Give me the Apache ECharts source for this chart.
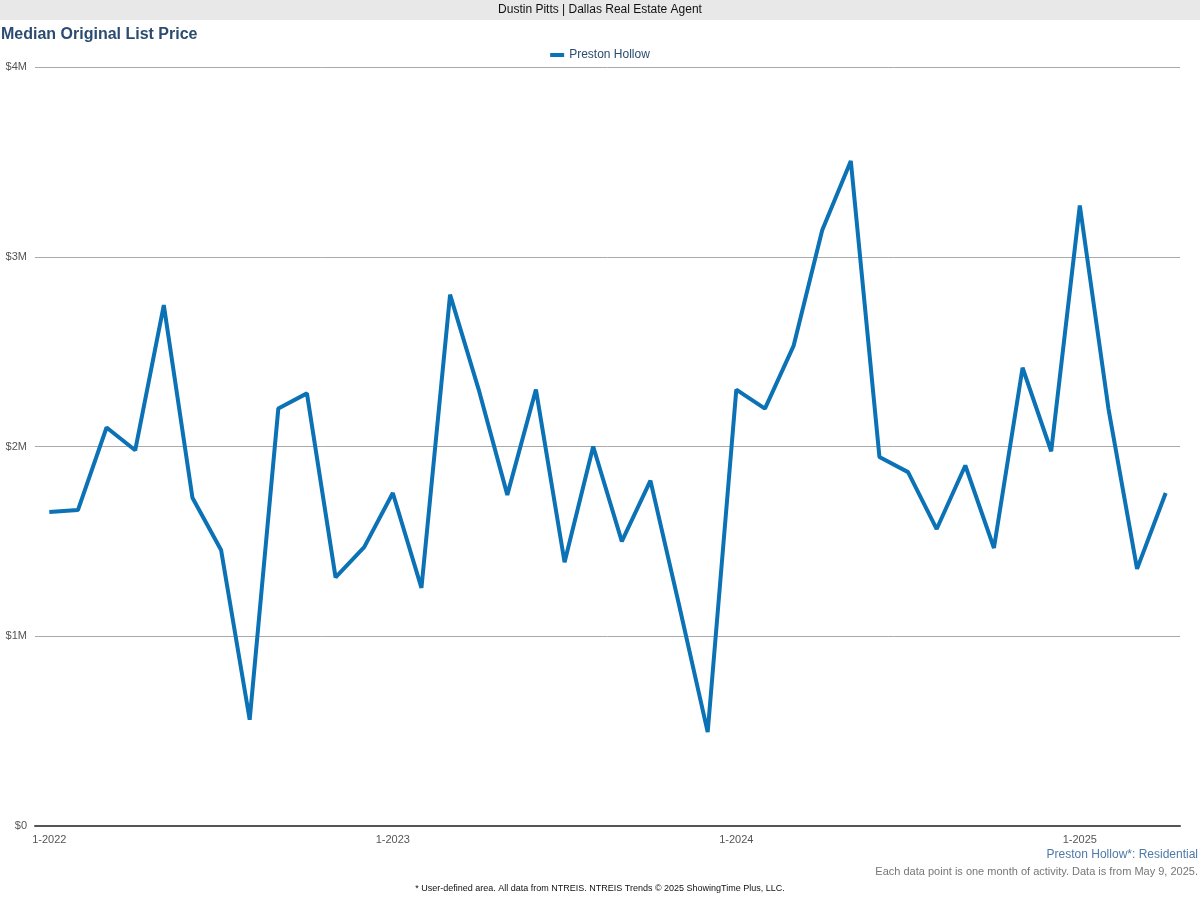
<!DOCTYPE html>
<html><head><meta charset="utf-8">
<script src="https://cdn.jsdelivr.net/npm/echarts@6/dist/echarts.min.js"></script>
<style>html,body{margin:0;padding:0;background:#fff}#c{width:1200px;height:900px}</style>
</head><body><div id="c"></div>
<script>
const months = [];
for (let y = 2022; y <= 2025; y++) for (let m = 1; m <= 12; m++) if (!(y === 2025 && m > 4)) months.push(m + '-' + y);
const seriesName = 'Preston Hollow';
const values = [1.655,1.665,2.10,1.98,2.745,1.73,1.455,0.56,2.20,2.28,1.31,1.47,
 1.755,1.255,2.80,2.30,1.745,2.30,1.39,2.00,1.50,1.82,1.165,0.495,
 2.30,2.20,2.53,3.14,3.505,1.945,1.865,1.565,1.90,1.465,2.415,1.975,
 3.27,2.20,1.355,1.755].map(v => v * 1e6);
const yTicks = [0,1e6,2e6,3e6,4e6];
const chart = echarts.init(document.getElementById('c'));
chart.setOption({
  animation:false,
  textStyle:{fontFamily:'Liberation Sans, Arial, sans-serif'},
  graphic:[
    {type:'rect',shape:{x:0,y:0,width:1200,height:20},style:{fill:'#e8e8e8'}},
    {type:'text',x:600,y:10,style:{text:'Dustin Pitts | Dallas Real Estate Agent',fill:'#111',font:'12px Liberation Sans, Arial',align:'center',verticalAlign:'middle'}},
    {type:'text',x:1,y:35,style:{text:'Median Original List Price',fill:'#2b4c70',font:'bold 16px Liberation Sans, Arial',verticalAlign:'middle'}},
    {type:'text',x:1198,y:855,style:{text:'Preston Hollow*: Residential',fill:'#4f79a8',font:'12px Liberation Sans, Arial',align:'right',verticalAlign:'middle'}},
    {type:'text',x:1198,y:872,style:{text:'Each data point is one month of activity. Data is from May 9, 2025.',fill:'#777',font:'11px Liberation Sans, Arial',align:'right',verticalAlign:'middle'}},
    {type:'text',x:600,y:889,style:{text:'* User-defined area. All data from NTREIS. NTREIS Trends © 2025 ShowingTime Plus, LLC.',fill:'#111',font:'9px Liberation Sans, Arial',align:'center',verticalAlign:'middle'}}
  ],
  legend:{top:44,left:'center',itemWidth:14,itemHeight:4,icon:'rect',textStyle:{color:'#2b4c70',fontSize:12},data:[seriesName]},
  grid:{left:35,right:20,top:67,bottom:74,containLabel:false},
  xAxis:{type:'category',data:months,boundaryGap:true,
    axisLine:{lineStyle:{color:'#555',width:2}},
    axisTick:{alignWithLabel:true,interval:11,length:5,lineStyle:{color:'#555'}},
    axisLabel:{interval:11,color:'#555',fontSize:11,margin:8}},
  yAxis:{type:'value',min:0,max:4e6,interval:1e6,
    axisLine:{show:false},axisTick:{show:false},
    splitLine:{lineStyle:{color:'#aaa'}},
    axisLabel:{color:'#555',fontSize:11,margin:8,formatter:v=>'$'+(v/1e6)+(v?'M':'')}},
  series:[{name:seriesName,type:'line',data:values,symbol:'none',lineStyle:{color:'#0c72b6',width:4},itemStyle:{color:'#0c72b6'}}]
});
</script></body></html>
